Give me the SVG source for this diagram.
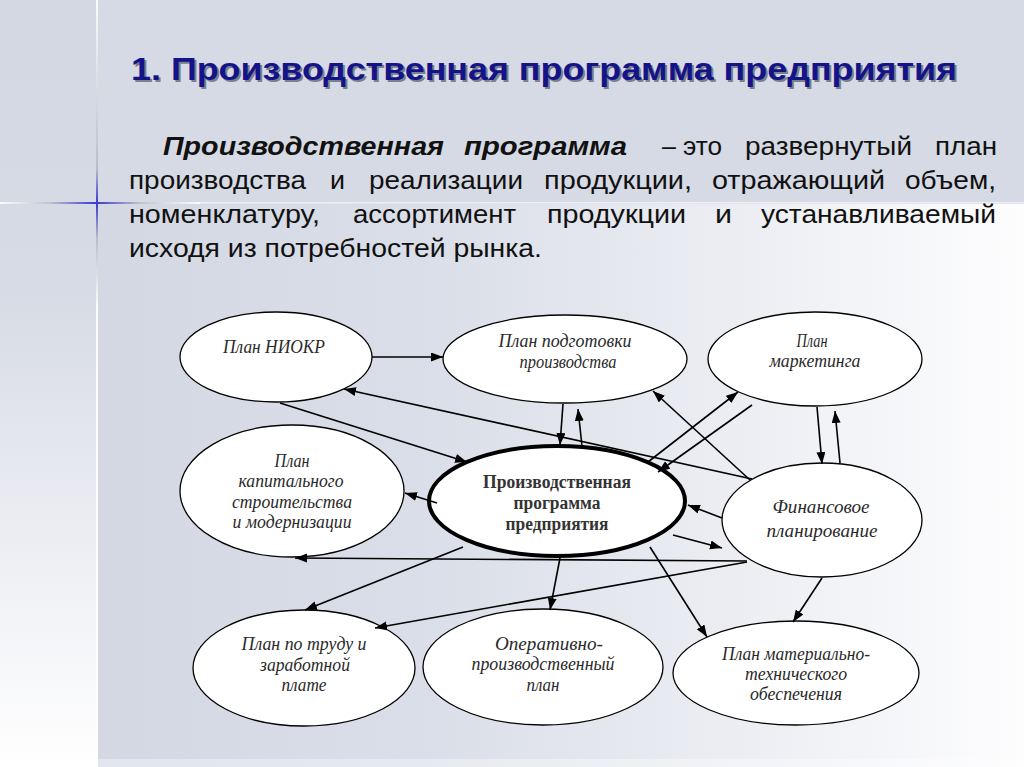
<svg xmlns="http://www.w3.org/2000/svg" width="1024" height="767" viewBox="0 0 1024 767">
<defs>
<linearGradient id="leftStrip" x1="0" y1="0" x2="0" y2="1">
<stop offset="0" stop-color="#d4d8e2"/>
<stop offset="0.38" stop-color="#d7dbe5"/>
<stop offset="1" stop-color="#ffffff"/>
</linearGradient>
<linearGradient id="mainLow" x1="0" y1="0" x2="1" y2="0">
<stop offset="0" stop-color="#d3d8e3"/>
<stop offset="0.35" stop-color="#dadee8"/>
<stop offset="0.7" stop-color="#eceef3"/>
<stop offset="1" stop-color="#fdfdfe"/>
</linearGradient>
<linearGradient id="vline" x1="0" y1="0" x2="0" y2="1">
<stop offset="0" stop-color="#ffffff" stop-opacity="0.9"/>
<stop offset="0.22" stop-color="#b9bcc8"/>
<stop offset="0.265" stop-color="#3a3ad0"/>
<stop offset="0.31" stop-color="#b9bcc8"/>
<stop offset="0.4" stop-color="#ffffff" stop-opacity="0.9"/>
<stop offset="1" stop-color="#ffffff" stop-opacity="0.9"/>
</linearGradient>
<linearGradient id="hline" x1="0" y1="0" x2="1" y2="0">
<stop offset="0" stop-color="#ffffff" stop-opacity="0.8"/>
<stop offset="0.25" stop-color="#c0c2cc"/>
<stop offset="0.48" stop-color="#3a3ad0"/>
<stop offset="0.7" stop-color="#c0c2cc"/>
<stop offset="1" stop-color="#ffffff" stop-opacity="0.8"/>
</linearGradient>
<marker id="arr" markerUnits="userSpaceOnUse" markerWidth="13" markerHeight="10" refX="12" refY="4.5" orient="auto">
<path d="M0,0 L12,4.5 L0,9 z" fill="#000"/>
</marker>
</defs>
<style>
.node{fill:#ffffff;stroke:#000;stroke-width:1.3}
.main{fill:#ffffff;stroke:#000;stroke-width:4}
.lbl{font-family:"Liberation Serif","Times New Roman",serif;font-style:italic;font-size:19px;fill:#2a2a2a;text-anchor:middle}
.mlbl{font-family:"Liberation Serif","Times New Roman",serif;font-weight:bold;font-size:18px;fill:#333;text-anchor:middle}
.con line{stroke:#000;stroke-width:1.6;marker-end:url(#arr)}
.para{font-family:"Liberation Sans",Arial,sans-serif;font-size:25px;fill:#111}
.title{font-family:"Liberation Sans",Arial,sans-serif;font-weight:bold;font-size:31px}
</style>
<!-- background -->
<rect x="0" y="0" width="1024" height="767" fill="#d6dae5"/>
<rect x="0" y="0" width="97" height="767" fill="url(#leftStrip)"/>
<rect x="98" y="204" width="926" height="563" fill="url(#mainLow)"/>
<rect x="98" y="759" width="926" height="8" fill="#ffffff" opacity="0.35"/>
<rect x="96" y="0" width="2" height="767" fill="url(#vline)"/>
<rect x="0" y="202" width="1024" height="1.5" fill="#f4f5f8" opacity="0.8"/>
<rect x="0" y="202" width="200" height="2" fill="url(#hline)"/>
<!-- title -->
<text class="title" x="133" y="82" fill="#7c7f8c" textLength="826" lengthAdjust="spacingAndGlyphs">1. Производственная программа предприятия</text>
<text class="title" x="131" y="80" fill="#14148a" textLength="826" lengthAdjust="spacingAndGlyphs">1. Производственная программа предприятия</text>
<!-- paragraph -->
<text class="para" y="155"><tspan x="163" textLength="281" lengthAdjust="spacingAndGlyphs" font-weight="bold" font-style="italic">Производственная</tspan><tspan x="464" textLength="163" lengthAdjust="spacingAndGlyphs" font-weight="bold" font-style="italic">программа</tspan><tspan x="662">–</tspan><tspan x="683" textLength="39" lengthAdjust="spacingAndGlyphs">это</tspan><tspan x="745" textLength="167" lengthAdjust="spacingAndGlyphs">развернутый</tspan><tspan x="935" textLength="62" lengthAdjust="spacingAndGlyphs">план</tspan></text>
<text class="para" y="189"><tspan x="129" textLength="177" lengthAdjust="spacingAndGlyphs">производства</tspan><tspan x="330" textLength="15" lengthAdjust="spacingAndGlyphs">и</tspan><tspan x="369" textLength="154" lengthAdjust="spacingAndGlyphs">реализации</tspan><tspan x="544" textLength="148" lengthAdjust="spacingAndGlyphs">продукции,</tspan><tspan x="712" textLength="173" lengthAdjust="spacingAndGlyphs">отражающий</tspan><tspan x="905" textLength="91" lengthAdjust="spacingAndGlyphs">объем,</tspan></text>
<text class="para" y="223"><tspan x="129" textLength="191" lengthAdjust="spacingAndGlyphs">номенклатуру,</tspan><tspan x="353" textLength="163" lengthAdjust="spacingAndGlyphs">ассортимент</tspan><tspan x="547" textLength="139" lengthAdjust="spacingAndGlyphs">продукции</tspan><tspan x="715" textLength="17" lengthAdjust="spacingAndGlyphs">и</tspan><tspan x="761" textLength="235" lengthAdjust="spacingAndGlyphs">устанавливаемый</tspan></text>
<text class="para" x="129" y="257" textLength="413" lengthAdjust="spacingAndGlyphs">исходя из потребностей рынка.</text>
<!-- nodes -->
<g id="n-niokr"><ellipse class="node" cx="276" cy="357" rx="96" ry="45"/><text class="lbl" x="274" y="353" textLength="102" lengthAdjust="spacingAndGlyphs">План НИОКР</text></g>
<g id="n-podg"><ellipse class="node" cx="565" cy="359" rx="122" ry="44"/><text class="lbl" x="565" y="347" textLength="133" lengthAdjust="spacingAndGlyphs">План подготовки</text><text class="lbl" x="568" y="368" textLength="97" lengthAdjust="spacingAndGlyphs">производства</text></g>
<g id="n-mark"><ellipse class="node" cx="815" cy="359" rx="107" ry="47"/><text class="lbl" x="812" y="347" textLength="31" lengthAdjust="spacingAndGlyphs">План</text><text class="lbl" x="815" y="367" textLength="91" lengthAdjust="spacingAndGlyphs">маркетинга</text></g>
<g id="n-kap"><ellipse class="node" cx="292" cy="491" rx="112" ry="66"/><text class="lbl" x="292" y="467" textLength="35" lengthAdjust="spacingAndGlyphs">План</text><text class="lbl" x="291" y="487" textLength="105" lengthAdjust="spacingAndGlyphs">капитального</text><text class="lbl" x="292" y="508" textLength="120" lengthAdjust="spacingAndGlyphs">строительства</text><text class="lbl" x="292" y="528" textLength="119" lengthAdjust="spacingAndGlyphs">и модернизации</text></g>
<g id="n-main"><ellipse class="main" cx="557" cy="501" rx="128" ry="55"/><text class="mlbl" x="557" y="488" textLength="148" lengthAdjust="spacingAndGlyphs">Производственная</text><text class="mlbl" x="557" y="509" textLength="87" lengthAdjust="spacingAndGlyphs">программа</text><text class="mlbl" x="557" y="530" textLength="103" lengthAdjust="spacingAndGlyphs">предприятия</text></g>
<g id="n-fin"><ellipse class="node" cx="822" cy="520" rx="100" ry="57"/><text class="lbl" x="821" y="513" textLength="97" lengthAdjust="spacingAndGlyphs">Финансовое</text><text class="lbl" x="822" y="537" textLength="111" lengthAdjust="spacingAndGlyphs">планирование</text></g>
<g id="n-trud"><ellipse class="node" cx="304" cy="668" rx="111" ry="58"/><text class="lbl" x="304" y="650" textLength="125" lengthAdjust="spacingAndGlyphs">План по труду и</text><text class="lbl" x="305" y="671" textLength="90" lengthAdjust="spacingAndGlyphs">заработной</text><text class="lbl" x="304" y="691" textLength="45" lengthAdjust="spacingAndGlyphs">плате</text></g>
<g id="n-oper"><ellipse class="node" cx="543" cy="667" rx="120" ry="58"/><text class="lbl" x="549" y="650" textLength="108" lengthAdjust="spacingAndGlyphs">Оперативно-</text><text class="lbl" x="543" y="670" textLength="143" lengthAdjust="spacingAndGlyphs">производственный</text><text class="lbl" x="543" y="691" textLength="33" lengthAdjust="spacingAndGlyphs">план</text></g>
<g id="n-mto"><ellipse class="node" cx="796" cy="673" rx="123" ry="52"/><text class="lbl" x="796" y="660" textLength="148" lengthAdjust="spacingAndGlyphs">План материально-</text><text class="lbl" x="796" y="680" textLength="102" lengthAdjust="spacingAndGlyphs">технического</text><text class="lbl" x="796" y="700" textLength="92" lengthAdjust="spacingAndGlyphs">обеспечения</text></g>
<!-- connectors -->
<g id="connectors" class="con">
<line x1="372" y1="357" x2="443" y2="357"/>
<line x1="752" y1="479" x2="344" y2="389"/>
<line x1="280" y1="403" x2="467" y2="462"/>
<line x1="563" y1="404" x2="560" y2="445"/>
<line x1="582" y1="446" x2="578" y2="409"/>
<line x1="750" y1="480" x2="653" y2="391"/>
<line x1="648" y1="462" x2="738" y2="392"/>
<line x1="752" y1="405" x2="658" y2="472"/>
<line x1="817" y1="407" x2="822" y2="464"/>
<line x1="840" y1="463" x2="835" y2="411"/>
<line x1="722" y1="518" x2="688" y2="505"/>
<line x1="673" y1="535" x2="722" y2="548"/>
<line x1="747" y1="561" x2="295" y2="558"/>
<line x1="437" y1="503" x2="405" y2="493"/>
<line x1="463" y1="547" x2="305" y2="610"/>
<line x1="747" y1="562" x2="375" y2="628"/>
<line x1="560" y1="558" x2="550" y2="610"/>
<line x1="650" y1="547" x2="707" y2="637"/>
<line x1="822" y1="578" x2="793" y2="622"/>
</g>
</svg>
